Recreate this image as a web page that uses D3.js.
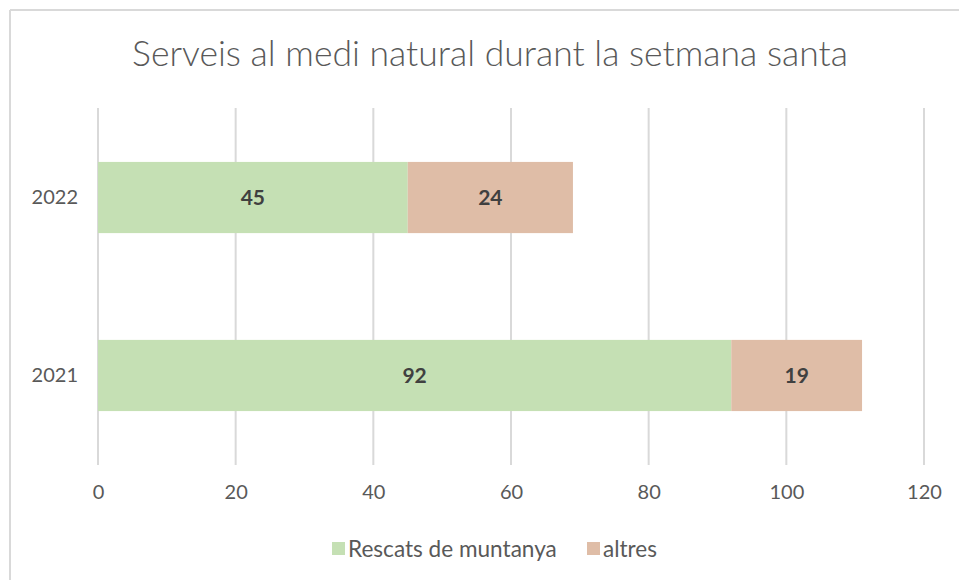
<!DOCTYPE html>
<html><head><meta charset="utf-8">
<script src="https://cdn.jsdelivr.net/npm/d3@7"></script>
<style>html,body{margin:0;padding:0;background:#fff;}svg{display:block;}</style>
</head><body>
<svg id="c" width="959" height="580"></svg>
<script>
const title = "Serveis al medi natural durant la setmana santa";
const categories = ["2022", "2021"];
const seriesNames = ["Rescats de muntanya", "altres"];
const rescats = [45, 92];
const altres = [24, 19];
const xTicks = [0, 20, 40, 60, 80, 100, 120];
const colors = ["#c5e0b4", "#dfbda7"];

const svg = d3.select("#c");
const font = "Lato, 'Open Sans', sans-serif";

// chart border (top and left visible)
svg.append("line").attr("x1",10).attr("x2",959).attr("y1",10).attr("y2",10).attr("stroke","#d9d9d9").attr("stroke-width",2);
svg.append("line").attr("x1",10).attr("x2",10).attr("y1",10).attr("y2",580).attr("stroke","#d9d9d9").attr("stroke-width",2);

function fitText(sel, w){
  const len = sel.node().getComputedTextLength();
  const fs = parseFloat(sel.attr("font-size"));
  sel.attr("font-size", fs * w / len);
}

const x = d3.scaleLinear().domain([0,120]).range([98,924]);
const y = d3.scaleBand().domain(categories).range([108,465]).paddingInner(0.6).paddingOuter(0.303);

// gridlines
svg.append("g").selectAll("line").data(xTicks).join("line")
  .attr("x1", d=>x(d)).attr("x2", d=>x(d)).attr("y1",108).attr("y2",465)
  .attr("stroke","#d9d9d9").attr("stroke-width",2);

// title
const t = svg.append("text").text(title).attr("x",490).attr("y",66)
  .attr("text-anchor","middle").attr("font-family",font).attr("font-weight",300).attr("font-size",29).attr("fill","#595959");
fitText(t, 716);

// stacked data
const rows = categories.map((c,i)=>({cat:c, r:rescats[i], a:altres[i]}));
const stack = d3.stack().keys(["r","a"])(rows);

const g = svg.append("g");
stack.forEach((layer, li)=>{
  g.selectAll(null).data(layer).join("rect")
    .attr("x", d=>x(d[0])).attr("width", d=>x(d[1])-x(d[0]))
    .attr("y", d=>y(d.data.cat)).attr("height", y.bandwidth())
    .attr("fill", colors[li]);
  g.selectAll(null).data(layer).join("text")
    .attr("x", d=>(x(d[0])+x(d[1]))/2).attr("y", d=>y(d.data.cat)+y.bandwidth()/2)
    .attr("dy","0.36em").attr("text-anchor","middle")
    .attr("font-family",font).attr("font-weight","bold").attr("font-size",21).attr("fill","#404040")
    .text(d=>d[1]-d[0]);
});

// x axis labels
const xa = d3.axisBottom(x).tickValues(xTicks).tickSize(0).tickPadding(0);
const xg = svg.append("g").attr("transform","translate(0,485)").call(xa);
xg.select(".domain").remove();
xg.selectAll("text").attr("font-family",font).attr("font-size",20).attr("fill","#595959").attr("dy","0.7em");

// y axis labels
const ya = d3.axisLeft(y).tickSize(0).tickPadding(20);
const yg = svg.append("g").attr("transform","translate(98,0)").call(ya);
yg.select(".domain").remove();
yg.selectAll("text").attr("font-family",font).attr("font-size",20).attr("fill","#595959");

// legend
const lg = svg.append("g");
const legX = [332, 587];
const legW = [209, 54];
seriesNames.forEach((n,i)=>{
  lg.append("rect").attr("x",legX[i]).attr("y",542).attr("width",13).attr("height",13).attr("fill",colors[i]);
  const tt = lg.append("text").attr("x",legX[i]+16).attr("y",549).attr("dy","0.35em")
    .attr("font-family",font).attr("font-size",20).attr("fill","#595959").text(n);
  fitText(tt, legW[i]);
});
</script>
</body></html>
